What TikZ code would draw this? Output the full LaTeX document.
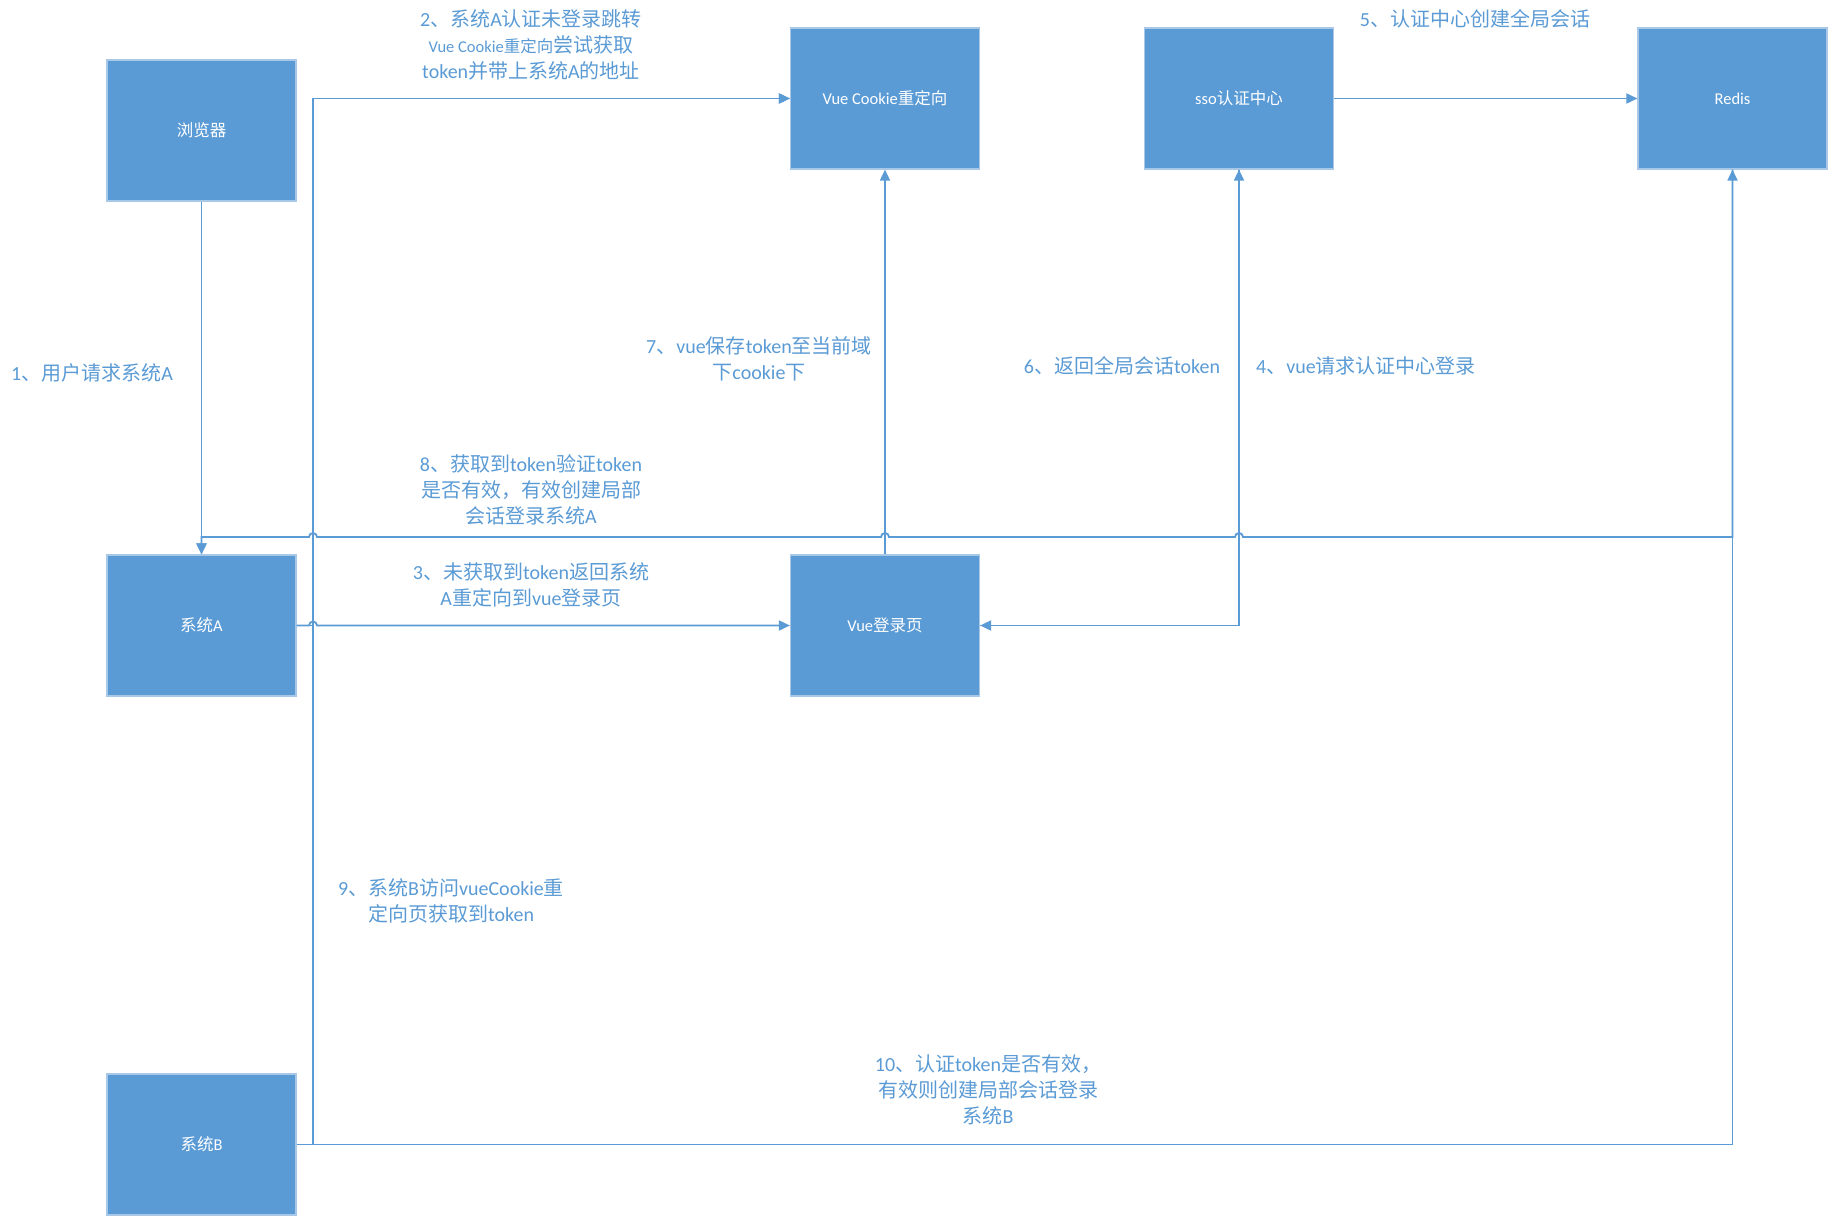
\documentclass[tikz,border=0pt]{standalone}
\usepackage{fontspec}
\setmainfont{Carlito}
\newfontfamily\cjkfont{Noto Sans CJK SC}
\usetikzlibrary{arrows.meta}
\XeTeXinterchartokenstate=1
\newcount\cjkcc
\cjkcc="3000 \loop\ifnum\cjkcc<"3040 \XeTeXcharclass\cjkcc=1 \advance\cjkcc by 1 \repeat
\cjkcc="4E00 \loop\ifnum\cjkcc<"A000 \XeTeXcharclass\cjkcc=1 \advance\cjkcc by 1 \repeat
\cjkcc="FF00 \loop\ifnum\cjkcc<"FFF0 \XeTeXcharclass\cjkcc=1 \advance\cjkcc by 1 \repeat
\XeTeXinterchartoks 0 1 = {\begingroup\cjkfont}
\XeTeXinterchartoks 4095 1 = {\begingroup\cjkfont}
\XeTeXinterchartoks 1 0 = {\endgroup}
\XeTeXinterchartoks 1 4095 = {\endgroup}
\definecolor{boxblue}{HTML}{5B9BD5}
\definecolor{boxedge}{HTML}{A9C8E8}
\definecolor{lineblue}{HTML}{5B9BD5}
\definecolor{lblblue}{HTML}{5B9BD5}
\tikzset{
  box/.style={rectangle, minimum width=189pt, minimum height=141pt, inner sep=0pt,
    fill=boxblue, draw=boxedge, line width=1.2pt, text=white,
    font=\fontsize{16.5}{20}\selectfont},
  conn/.style={draw=lineblue, line width=1.8pt},
  arr/.style={conn, -{Triangle[length=11pt,width=10pt]}},
  lbl/.style={text=lblblue, align=center, inner sep=0pt,
    font=\fontsize{20}{26}\selectfont}
}
\begin{document}
\begin{tikzpicture}[x=1pt,y=-1pt]
\useasboundingbox (0,0) rectangle (1834,1225);
\fill[white] (0,0) rectangle (1834,1225);
% boxes
\node[box] (browser)   at (201.5,130.5) {浏览器};
\node[box] (vueCookie) at (885,98.5) {Vue Cookie重定向};
\node[box] (sso)       at (1239,98.5) {sso认证中心};
\node[box] (redis)     at (1732.5,98.5) {Redis};
\node[box] (sysA)      at (201.5,625.5) {系统A};
\node[box] (vueLogin)  at (885,625.5) {Vue登录页};
\node[box] (sysB)      at (201.5,1144.5) {系统B};
% helper coordinates
\coordinate (jx) at (313,0);
\coordinate (h8) at (0,537);
% 1
\draw[arr] (browser.south) -- (sysA.north);
% 2 and 9
\draw[arr] (sysA.east) -- (jx |- sysA.east) |- (vueCookie.west);
\draw[arr] (sysB.east) -- (jx |- sysB.east) |- (vueCookie.west);
% 3 with hop
\draw[arr] (sysA.east) -- (309,625.5) arc[start angle=180, end angle=360, radius=4] -- (vueLogin.west);
% 4 and 6
\draw[arr] (vueLogin.east) -| (sso.south);
\draw[arr] (sso.south) |- (vueLogin.east);
% 5
\draw[arr] (sso.east) -- (redis.west);
% 7
\draw[arr] (vueLogin.north) -- (vueCookie.south);
% 8 with hops
\draw[arr] (redis.south) -- (redis.south |- h8) -- (1243,537)
  arc[start angle=0, end angle=-180, radius=4] -- (889,537)
  arc[start angle=0, end angle=-180, radius=4] -- (317,537)
  arc[start angle=0, end angle=-180, radius=4] -- (sysA.north |- h8) -- (sysA.north);
% 10
\draw[arr] (sysB.east) -- (redis.south |- sysB.east) -- (redis.south);
% labels
\node[lbl] (l1) at (92,373) {1、用户请求系统A};
\node[lbl] (l2) at (531,45) {2、系统A认证未登录跳转\\{\fontsize{16.5}{26}\selectfont Vue Cookie重定向}尝试获取\\token并带上系统A的地址};
\node[lbl] (l3) at (531,585) {3、未获取到token返回系统\\A重定向到vue登录页};
\node[lbl] (l4) at (1366,366) {4、vue请求认证中心登录};
\node[lbl] (l5) at (1475,19) {5、认证中心创建全局会话};
\node[lbl] (l6) at (1122,366) {6、返回全局会话token};
\node[lbl] (l7) at (759,359) {7、vue保存token至当前域\\下cookie下};
\node[lbl] (l8) at (531,490) {8、获取到token验证token\\是否有效，有效创建局部\\会话登录系统A};
\node[lbl] (l9) at (451,901) {9、系统B访问vueCookie重\\定向页获取到token};
\node[lbl] (l10) at (988,1090) {10、认证token是否有效，\\有效则创建局部会话登录\\系统B};
\end{tikzpicture}
\end{document}
